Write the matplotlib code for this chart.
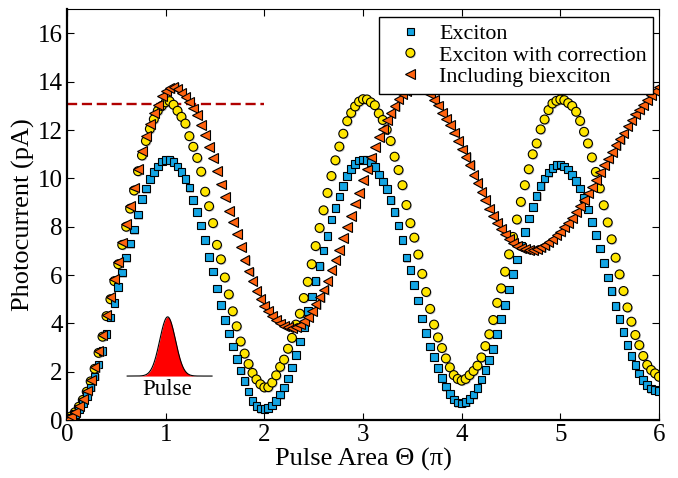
import numpy as np
import matplotlib.pyplot as plt
import matplotlib.patheffects as pe

plt.rcParams['font.family'] = ['Liberation Serif', 'DejaVu Serif']

# pulse area in units of pi, sampled every 0.04
theta = np.linspace(0, 6, 151)

exciton = [
    0.00, 0.10, 0.25, 0.45, 0.70, 1.00, 1.35, 1.80, 2.30, 2.85,
    3.55, 4.25, 4.85, 5.50, 6.10, 6.72, 7.30, 7.88, 8.50, 9.15,
    9.58, 9.98, 10.27, 10.50, 10.70, 10.76, 10.76, 10.68, 10.50, 10.26,
    9.98, 9.62, 9.12, 8.60, 8.05, 7.45, 6.75, 6.15, 5.45, 4.75,
    4.15, 3.58, 3.05, 2.52, 2.05, 1.62, 1.18, 0.80, 0.58, 0.47,
    0.45, 0.50, 0.60, 0.80, 1.05, 1.35, 1.72, 2.18, 2.68, 3.25,
    3.85, 4.50, 5.12, 5.75, 6.38, 7.02, 7.62, 8.30, 8.78, 9.25,
    9.68, 10.10, 10.40, 10.60, 10.74, 10.79, 10.77, 10.66, 10.47, 10.16,
    9.88, 9.55, 9.10, 8.60, 8.05, 7.45, 6.72, 6.22, 5.58, 4.95,
    4.20, 3.60, 3.05, 2.60, 2.15, 1.73, 1.38, 1.08, 0.85, 0.72,
    0.69, 0.74, 0.88, 1.05, 1.32, 1.68, 2.07, 2.48, 2.95, 3.55,
    4.17, 4.76, 5.40, 6.04, 6.65, 7.22, 7.79, 8.34, 8.83, 9.27,
    9.68, 10.00, 10.24, 10.42, 10.55, 10.58, 10.50, 10.37, 10.14, 9.90,
    9.59, 9.18, 8.72, 8.20, 7.65, 7.10, 6.51, 5.90, 5.35, 4.73,
    4.17, 3.65, 3.10, 2.65, 2.28, 1.93, 1.65, 1.45, 1.30, 1.23,
    1.21,
]

corrected = [
    0.00, 0.15, 0.32, 0.55, 0.83, 1.17, 1.60, 2.12, 2.78, 3.45,
    4.30, 5.00, 5.75, 6.45, 7.25, 8.00, 8.75, 9.50, 10.30, 10.95,
    11.55, 12.05, 12.45, 12.80, 13.00, 13.15, 13.20, 13.05, 12.80, 12.55,
    12.27, 11.75, 11.31, 10.85, 10.28, 9.45, 8.85, 8.15, 7.25, 6.65,
    5.90, 5.20, 4.50, 3.88, 3.25, 2.75, 2.32, 1.95, 1.68, 1.48,
    1.35, 1.36, 1.55, 1.85, 2.20, 2.50, 2.95, 3.40, 3.95, 4.40,
    5.05, 5.72, 6.45, 7.20, 7.95, 8.68, 9.40, 10.10, 10.75, 11.32,
    11.85, 12.37, 12.71, 12.98, 13.18, 13.28, 13.27, 13.15, 13.03, 12.69,
    12.42, 12.02, 11.55, 10.90, 10.35, 9.72, 8.90, 8.15, 7.55, 6.85,
    6.05, 5.30, 4.60, 3.95, 3.42, 2.98, 2.55, 2.18, 1.86, 1.70,
    1.63, 1.70, 1.86, 2.03, 2.25, 2.59, 3.06, 3.55, 4.14, 4.85,
    5.45, 6.14, 6.86, 7.58, 8.30, 9.03, 9.72, 10.38, 11.00, 11.45,
    12.03, 12.44, 12.83, 13.10, 13.21, 13.27, 13.24, 13.12, 13.00, 12.76,
    12.38, 11.93, 11.45, 10.87, 10.27, 9.59, 8.89, 8.18, 7.48, 6.72,
    6.03, 5.34, 4.66, 4.07, 3.52, 3.10, 2.65, 2.28, 2.07, 1.93,
    1.79,
]

biexciton = [
    0.00, 0.15, 0.33, 0.57, 0.86, 1.22, 1.65, 2.18, 2.85, 3.52,
    4.35, 5.08, 5.85, 6.55, 7.35, 8.10, 8.85, 9.62, 10.40, 11.15,
    11.75, 12.25, 12.70, 13.05, 13.40, 13.62, 13.75, 13.79, 13.70, 13.55,
    13.38, 13.15, 12.90, 12.62, 12.20, 11.79, 11.30, 10.85, 10.30, 9.75,
    9.24, 8.65, 8.20, 7.70, 7.17, 6.62, 6.15, 5.75, 5.35, 5.00,
    4.72, 4.50, 4.30, 4.15, 4.00, 3.90, 3.84, 3.82, 3.86, 3.95,
    4.10, 4.25, 4.50, 4.80, 5.10, 5.40, 5.75, 6.20, 6.62, 7.05,
    7.52, 8.00, 8.45, 8.96, 9.40, 9.93, 10.37, 10.87, 11.31, 11.72,
    12.06, 12.41, 12.72, 13.00, 13.28, 13.48, 13.62, 13.75, 13.82, 13.85,
    13.80, 13.65, 13.48, 13.25, 13.02, 12.72, 12.45, 12.20, 11.90, 11.55,
    11.20, 10.88, 10.55, 10.15, 9.80, 9.45, 9.10, 8.75, 8.45, 8.15,
    7.90, 7.68, 7.48, 7.32, 7.20, 7.12, 7.07, 7.05, 7.05, 7.08,
    7.15, 7.25, 7.36, 7.50, 7.65, 7.80, 7.98, 8.15, 8.35, 8.62,
    8.85, 9.10, 9.38, 9.65, 9.95, 10.25, 10.55, 10.82, 11.10, 11.38,
    11.62, 11.86, 12.15, 12.40, 12.65, 12.85, 13.05, 13.25, 13.45, 13.62,
    13.79,
]

labels = ["Exciton", "Exciton with correction", "Including biexciton"]

# measured reference level (dashed line) and its extent in pi
ref_level = 13.1
ref_span = (0.0, 2.0)

# schematic pulse inset
pulse_center = 1.02
pulse_width = 0.08
pulse_base = 1.82
pulse_height = 2.45
pulse_extent = (0.61, 1.47)

fig = plt.figure(figsize=(6.78, 4.78), dpi=100)
ax = fig.add_axes([0.0988, 0.1213, 0.8732, 0.8592])

shadow = [pe.SimplePatchShadow(offset=(0.8, -0.8), shadow_rgbFace='0.55', alpha=0.5),
          pe.Normal()]

h_sq, = ax.plot(theta, exciton, 's', ms=5.5, mfc='#14A5E3', mec='black',
                mew=0.8, zorder=4, label=labels[0], path_effects=shadow)
h_ci, = ax.plot(theta, corrected, 'o', ms=6.4, mfc='#FFE600', mec='black',
                mew=0.8, zorder=3, label=labels[1], path_effects=shadow)
h_tr, = ax.plot(theta, biexciton, '<', ms=7.0, mfc='#FF6310', mec='black',
                mew=0.8, zorder=5, label=labels[2], path_effects=shadow)

ax.hlines(ref_level, *ref_span, colors='#B00000', lw=1.7,
          linestyles=(0, (4.3, 2.0)), zorder=2)

# pulse glyph
px = np.linspace(*pulse_extent, 200)
py = pulse_base + pulse_height * np.exp(-(px - pulse_center) ** 2 / (2 * pulse_width ** 2))
ax.fill_between(px, pulse_base, py, color='#FF0000', lw=0, zorder=2)
ax.plot(px, py, color='black', lw=0.8, zorder=2)
ax.text(pulse_center, 1.25, "Pulse", ha='center', va='center', fontsize=16.5)

ax.set_xlim(0, 6)
ax.set_ylim(0, 17)
ax.set_xticks(range(0, 7))
ax.set_yticks(range(0, 17, 2))
ax.tick_params(direction='in', top=True, right=True, length=5, width=0.8,
               labelsize=18, pad=3)
for side in ['left', 'bottom']:
    ax.spines[side].set_linewidth(1.6)
for side in ['top', 'right']:
    ax.spines[side].set_linewidth(0.8)

ax.set_xlabel("Pulse Area Θ (π)", fontsize=19, labelpad=1)
ax.set_ylabel("Photocurrent (pA)", fontsize=19, labelpad=2)

leg = ax.legend(handles=[h_sq, h_ci, h_tr], loc='upper right',
                bbox_to_anchor=(0.990, 0.981), borderaxespad=0, numpoints=1,
                fontsize=15.8, handletextpad=0.15, labelspacing=0.05,
                borderpad=0.3, handlelength=2.3,
                fancybox=False, framealpha=1, edgecolor='black')
leg.get_frame().set_linewidth(1.0)
leg.set_zorder(10)

fig.savefig("out.png", dpi=100)
